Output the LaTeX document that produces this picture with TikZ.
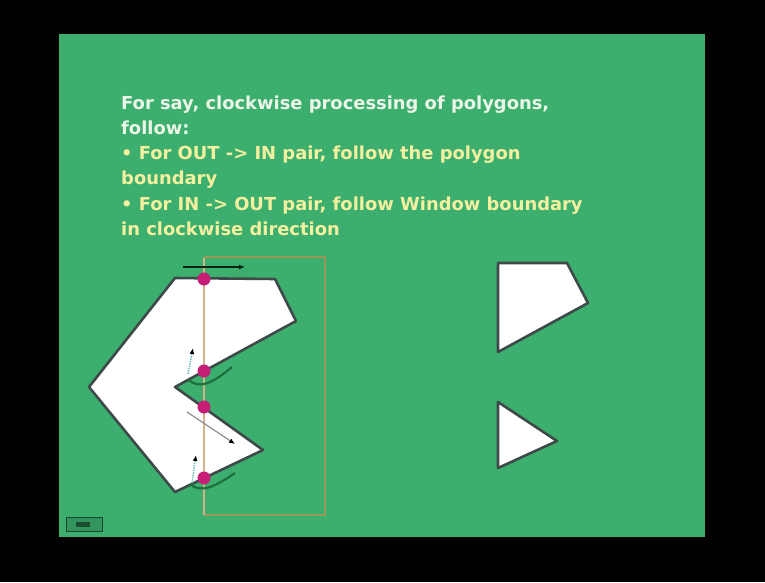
\documentclass[tikz,border=0pt]{standalone}
\usepackage{fontspec}
\setmainfont{DejaVu Sans}
\usetikzlibrary{arrows.meta,positioning,calc}
\definecolor{slide}{RGB}{60,174,110}
\definecolor{headtxt}{RGB}{236,246,232}
\definecolor{bultxt}{RGB}{244,240,160}
\definecolor{edgegray}{RGB}{62,74,74}
\definecolor{winline}{RGB}{214,178,138}
\definecolor{winbox}{RGB}{172,148,86}
\definecolor{hitpink}{RGB}{198,30,118}
\definecolor{arcgreen}{RGB}{28,112,62}
\definecolor{walkteal}{RGB}{110,185,185}

\begin{document}
\begin{tikzpicture}[x=1pt,y=-1pt,>=Latex,
poly/.style={draw=edgegray,line width=2.6pt,fill=white,line join=round},
winedge/.style={draw=winline,line width=1.6pt},
winframe/.style={draw=winbox,line width=2.2pt,opacity=.85},
hit/.style={circle,fill=hitpink,inner sep=0pt,minimum size=13pt},
walk/.style={line width=1.4pt,draw=walkteal,densely dotted,-{Latex[length=6pt,width=5pt,black]}},
turn/.style={draw=arcgreen,line width=2.2pt},
note/.style={align=left,inner sep=0pt,font=\bfseries\fontsize{17.9}{24.5}\selectfont}]
% slide and margins
\fill[black] (0,0) rectangle (765,582);
\fill[slide] (59,34) rectangle (705,537);
\useasboundingbox (0,0) rectangle (765,582);

% text
\node[note,text=headtxt,anchor=base west] (head) at (121,134)
{For say, clockwise processing of polygons,\\ follow:};
\node[note,text=bultxt,anchor=base west] (b1) at (121,184)
{\textbullet\ For OUT -> IN pair, follow the polygon\\boundary};
\node[note,text=bultxt,anchor=base west] (b2) at (121,235)
{\textbullet\ For IN -> OUT pair, follow Window boundary\\in clockwise direction};

% subject polygon
\draw[poly] (175,278) -- (275,279) -- (296,321) -- (175,387) -- (263,450)
  -- (175,492) -- (89,387) -- cycle;

% clip window
\draw[winframe] (204,257) -- (325,257) -- (325,515) -- (204,515);
\coordinate (wtop) at (204,258);
\coordinate (wbot) at (204,515);
\draw[winedge] (wtop) -- (wbot);

% intersections
\node[hit] (p1) at (204,279) {};
\node[hit] (p2) at (204,371) {};
\node[hit] (p3) at (204,407) {};
\node[hit] (p4) at (204,478) {};

% traversal hints
\coordinate (a1) at (183,267);
\coordinate (a2) at (245,267);
\draw[line width=1.8pt,draw=black!70!arcgreen,-{Latex[length=6pt,width=5pt]}] (a1) -- (a2);
\coordinate (u1) at (188,374);
\coordinate (u2) at (193,348);
\draw[walk] (u1) -- (u2);
\coordinate (m1) at (187,412);
\coordinate (m2) at (235,444);
\draw[line width=1.2pt,draw=black!45,-{Latex[length=6pt,width=5pt,black]}] (m1) -- (m2);
\coordinate (d1) at (192,483);
\coordinate (d2) at (196,455);
\draw[walk] (d1) -- (d2);
\draw[turn] (189,380) .. controls (200,390) and (214,382) .. (232,367);
\draw[turn] (190,484) .. controls (201,494) and (216,486) .. (235,473);

% clipped result
\draw[poly] (498,263) -- (567,263) -- (588,303) -- (498,352) -- cycle;
\draw[poly] (498,402) -- (557,441) -- (498,468) -- cycle;

% footer button
\node[draw=black!60!slide,fill=slide!85!black,line width=1pt,minimum width=36pt,
  minimum height=14pt,inner sep=0pt] (btn) at (84,524) {};
\fill[black!55!slide] ($(btn.center)+(-8,-2)$) rectangle ($(btn.center)+(6,3)$);
\end{tikzpicture}
\end{document}
